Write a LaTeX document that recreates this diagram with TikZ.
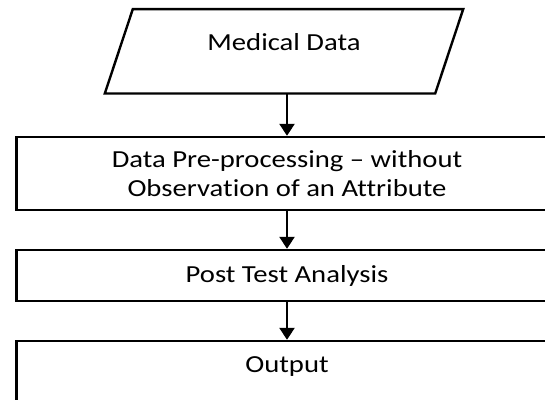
\documentclass[tikz,border=0pt]{standalone}
\usepackage{fontspec}
\setmainfont{Carlito}[FakeStretch=1.17,Ligatures={TeX,NoCommon}]
\usetikzlibrary{arrows.meta}

\begin{document}
\begin{tikzpicture}[x=1pt,y=-1pt]
\tikzstyle{every node}=[font=\fontsize{24.5}{29.6}\selectfont]
\tikzstyle{iobox}=[rectangle,minimum width=330pt,minimum height=84pt,inner sep=0pt]
\tikzstyle{procbox}=[draw,line width=2.4pt,rectangle,minimum width=541pt,align=center,inner sep=0pt]
\tikzstyle{flow}=[line width=2.4pt,-{Triangle[width=15pt,length=12pt]}]
\useasboundingbox (0,0) rectangle (545,399);
\clip (0,0) rectangle (545,399);
\node[iobox,text height=17pt,text depth=19.6pt] (md) at (284,51.3) {Medical Data};
\draw[line width=2.4pt,line join=miter] ([xshift=-14pt]md.south west) -- ([xshift=-14pt]md.south east)
  -- ([xshift=14pt]md.north east) -- ([xshift=14pt]md.north west) -- cycle;
\node[procbox,minimum height=73pt] (pre) at (287,173.5) {Data Pre-processing -- without\\Observation of an Attribute};
\node[procbox,minimum height=51pt] (pta) at (287,275.5) {Post Test Analysis};
\node[procbox,minimum height=80pt,text height=17pt,text depth=34pt] (out) at (287,381) {Output};
\draw[flow] (md.south -| pre.north) -- (pre.north);
\draw[flow] (pre) -- (pta);
\draw[flow] (pta) -- (out);
\end{tikzpicture}
\end{document}
